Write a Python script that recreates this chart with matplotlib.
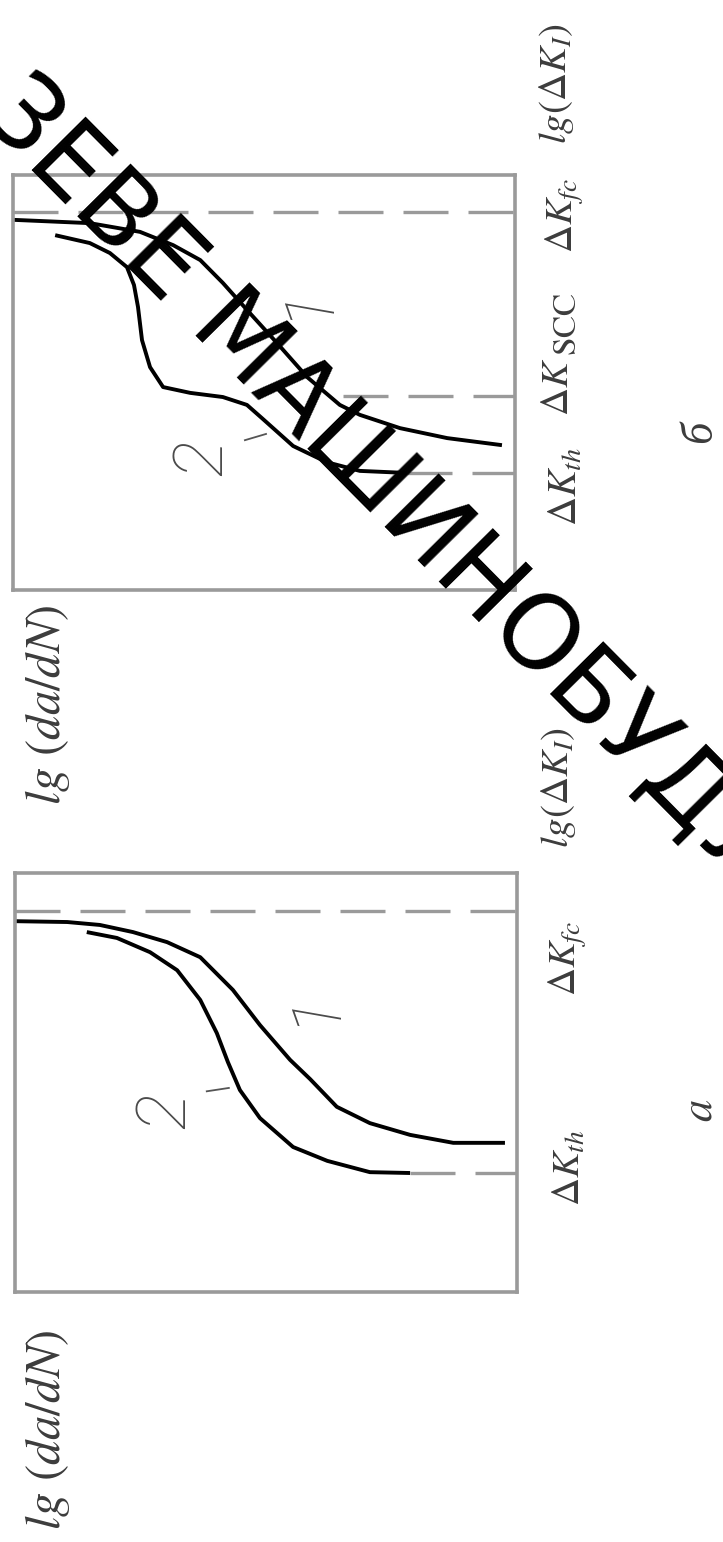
import math
import matplotlib
matplotlib.use("Agg")
import matplotlib.pyplot as plt

plt.rcParams['mathtext.fontset'] = 'stix'
plt.rcParams['font.family'] = ['Liberation Serif', 'DejaVu Sans']

# ---- data (arbitrary log units, 0..100 across each frame) ----
# lg(da/dN) values (horizontal, increasing to the left after rotation)
a_c1_lgv = [100.0, 89.6, 83.1, 76.5, 69.7, 63.1, 56.6, 51.2, 45.2, 41.2, 35.9, 29.3, 21.3, 12.7, 2.4]
a_c1_lgk = [88.5, 88.3, 87.6, 85.9, 83.5, 79.9, 72.1, 63.7, 55.4, 50.8, 44.2, 40.3, 37.5, 35.6, 35.6]
a_c2_lgv = [85.7, 79.7, 73.1, 67.7, 63.1, 59.8, 57.6, 55.2, 51.2, 44.6, 37.8, 29.3, 21.3]
a_c2_lgk = [85.9, 84.5, 81.1, 76.8, 69.7, 61.8, 54.9, 48.2, 41.5, 34.6, 31.3, 28.6, 28.4]

b_c1_lgv = [100.0, 84.7, 74.7, 68.1, 62.7, 58.2, 52.8, 47.4, 41.4, 34.9, 30.9, 22.9, 13.5, 2.6]
b_c1_lgk = [89.2, 88.4, 86.3, 83.1, 79.5, 74.0, 66.7, 59.5, 51.3, 44.6, 42.2, 39.0, 36.6, 34.9]
b_c2_lgv = [91.6, 84.7, 80.7, 77.3, 75.9, 75.1, 74.3, 72.7, 70.1, 64.7, 58.2, 53.4, 50.4, 44.2, 37.5, 30.9, 21.5]
b_c2_lgk = [85.5, 83.6, 81.2, 77.8, 73.5, 68.2, 60.2, 53.7, 48.9, 47.5, 46.5, 44.6, 41.4, 34.7, 30.8, 28.7, 28.2]

# characteristic levels (lg dK) and where the dashed guide starts (lg da/dN)
a_levels = {'fc': (90.9, 100.0), 'th': (28.4, 21.3)}
b_levels = {'fc': (91.1, 100.0), 'scc': (46.7, 34.3), 'th': (28.2, 21.5)}

# curve number labels (lgv, lgk)
a_labels = {'1': (40.6, 68.0), '2': (70.1, 43.4)}
b_labels = {'1': (41.6, 69.6), '2': (62.2, 32.0)}
a_leader2 = ([61.8, 57.4], [47.9, 48.7])
b_leader2 = ([53.8, 49.6], [36.1, 37.6])

WATERMARK = 'ЗЕВЕ МАШИНОБУДУВАННЯ'

W, H = 723, 1542
fig = plt.figure(figsize=(W / 100, H / 100), dpi=100)
fig.patch.set_facecolor('white')

GRAY = '#9a9a9a'
TXT = '#3c3c3c'


def px_axes(x0, y0, x1, y1):
    return fig.add_axes([x0 / W, 1 - y1 / H, (x1 - x0) / W, (y1 - y0) / H])


def panel(ax, c1v, c1k, c2v, c2k, levels, labels, leader):
    ax.set_xlim(100, 0)
    ax.set_ylim(0, 100)
    ax.set_xticks([])
    ax.set_yticks([])
    for s in ax.spines.values():
        s.set_color(GRAY)
        s.set_linewidth(2.6)
    for k, (lk, start) in levels.items():
        ax.plot([start, 0], [lk, lk], color=GRAY, lw=2.4,
                dashes=(13.5, 6), solid_capstyle='butt', clip_on=False)
    ax.plot(c1v, c1k, color='black', lw=2.8, solid_capstyle='butt',
            solid_joinstyle='round')
    ax.plot(c2v, c2k, color='black', lw=2.8, solid_capstyle='butt',
            solid_joinstyle='round')
    for t, (v, k) in labels.items():
        ax.text(v, k, t, rotation=90, ha='center', va='center',
                fontsize=50, color='#4a4a4a', family=['Roboto', 'DejaVu Sans'],
                fontweight='light', style='italic')
    ax.plot(leader[0], leader[1], color='#555555', lw=1.3)


axa = px_axes(15, 873, 517, 1292)
panel(axa, a_c1_lgv, a_c1_lgk, a_c2_lgv, a_c2_lgk, a_levels, a_labels, a_leader2)
axb = px_axes(13, 175, 515, 590)
panel(axb, b_c1_lgv, b_c1_lgk, b_c2_lgv, b_c2_lgk, b_levels, b_labels, b_leader2)


def ftext(x, y, s, **kw):
    fig.text(x / W, 1 - y / H, s, rotation=90, ha='center', va='center',
             color=TXT, **kw)


# panel a labels
ftext(47, 1430, r'$lg\ (da/dN)$', fontsize=35)
ftext(558, 787, r'$lg(\Delta K_I)$', fontsize=28)
ftext(568, 958, r'$\Delta K_{fc}$', fontsize=28)
ftext(570, 1168, r'$\Delta K_{th}$', fontsize=28)
ftext(700, 1110, r'$a$', fontsize=32)

# panel b labels
ftext(47, 705, r'$lg\ (da/dN)$', fontsize=35)
ftext(557, 83, r'$lg(\Delta K_I)$', fontsize=28)
ftext(565, 215, r'$\Delta K_{fc}$', fontsize=28)
ftext(558, 387, r'$\Delta K$', fontsize=28)
ftext(568, 324, r'$\mathrm{SCC}$', fontsize=24)
ftext(567, 486, r'$\Delta K_{th}$', fontsize=29)
ftext(700, 432, 'б', fontsize=32, style='italic')

# watermark: place so that the centre of "М" sits at the measured spot
WM_SIZE = 74
WM_ANG = 45.3
renderer = fig.canvas.get_renderer()


def text_width(s):
    t = fig.text(0, 0, s, fontsize=WM_SIZE, family=['DejaVu Sans'])
    w = t.get_window_extent(renderer).width
    t.remove()
    return w


along = text_width('ЗЕВЕ М') - text_width('М') / 2
cap = 0.729 * WM_SIZE * 100 / 72
th = math.radians(WM_ANG)
dx, dy = math.cos(th), math.sin(th)          # along the text (screen, y down)
ux, uy = math.sin(th), -math.cos(th)         # towards letter tops
mx, my = 245, 333                            # centre of "М"
bx, by = mx - cap / 2 * ux, my - cap / 2 * uy
ax0, ay0 = bx - along * dx, by - along * dy
fig.text(ax0 / W, 1 - ay0 / H, WATERMARK, rotation=-WM_ANG,
         rotation_mode='anchor', ha='left', va='baseline', fontsize=WM_SIZE,
         color='black', family=['DejaVu Sans'])

fig.savefig('out.png', dpi=100, facecolor='white')
